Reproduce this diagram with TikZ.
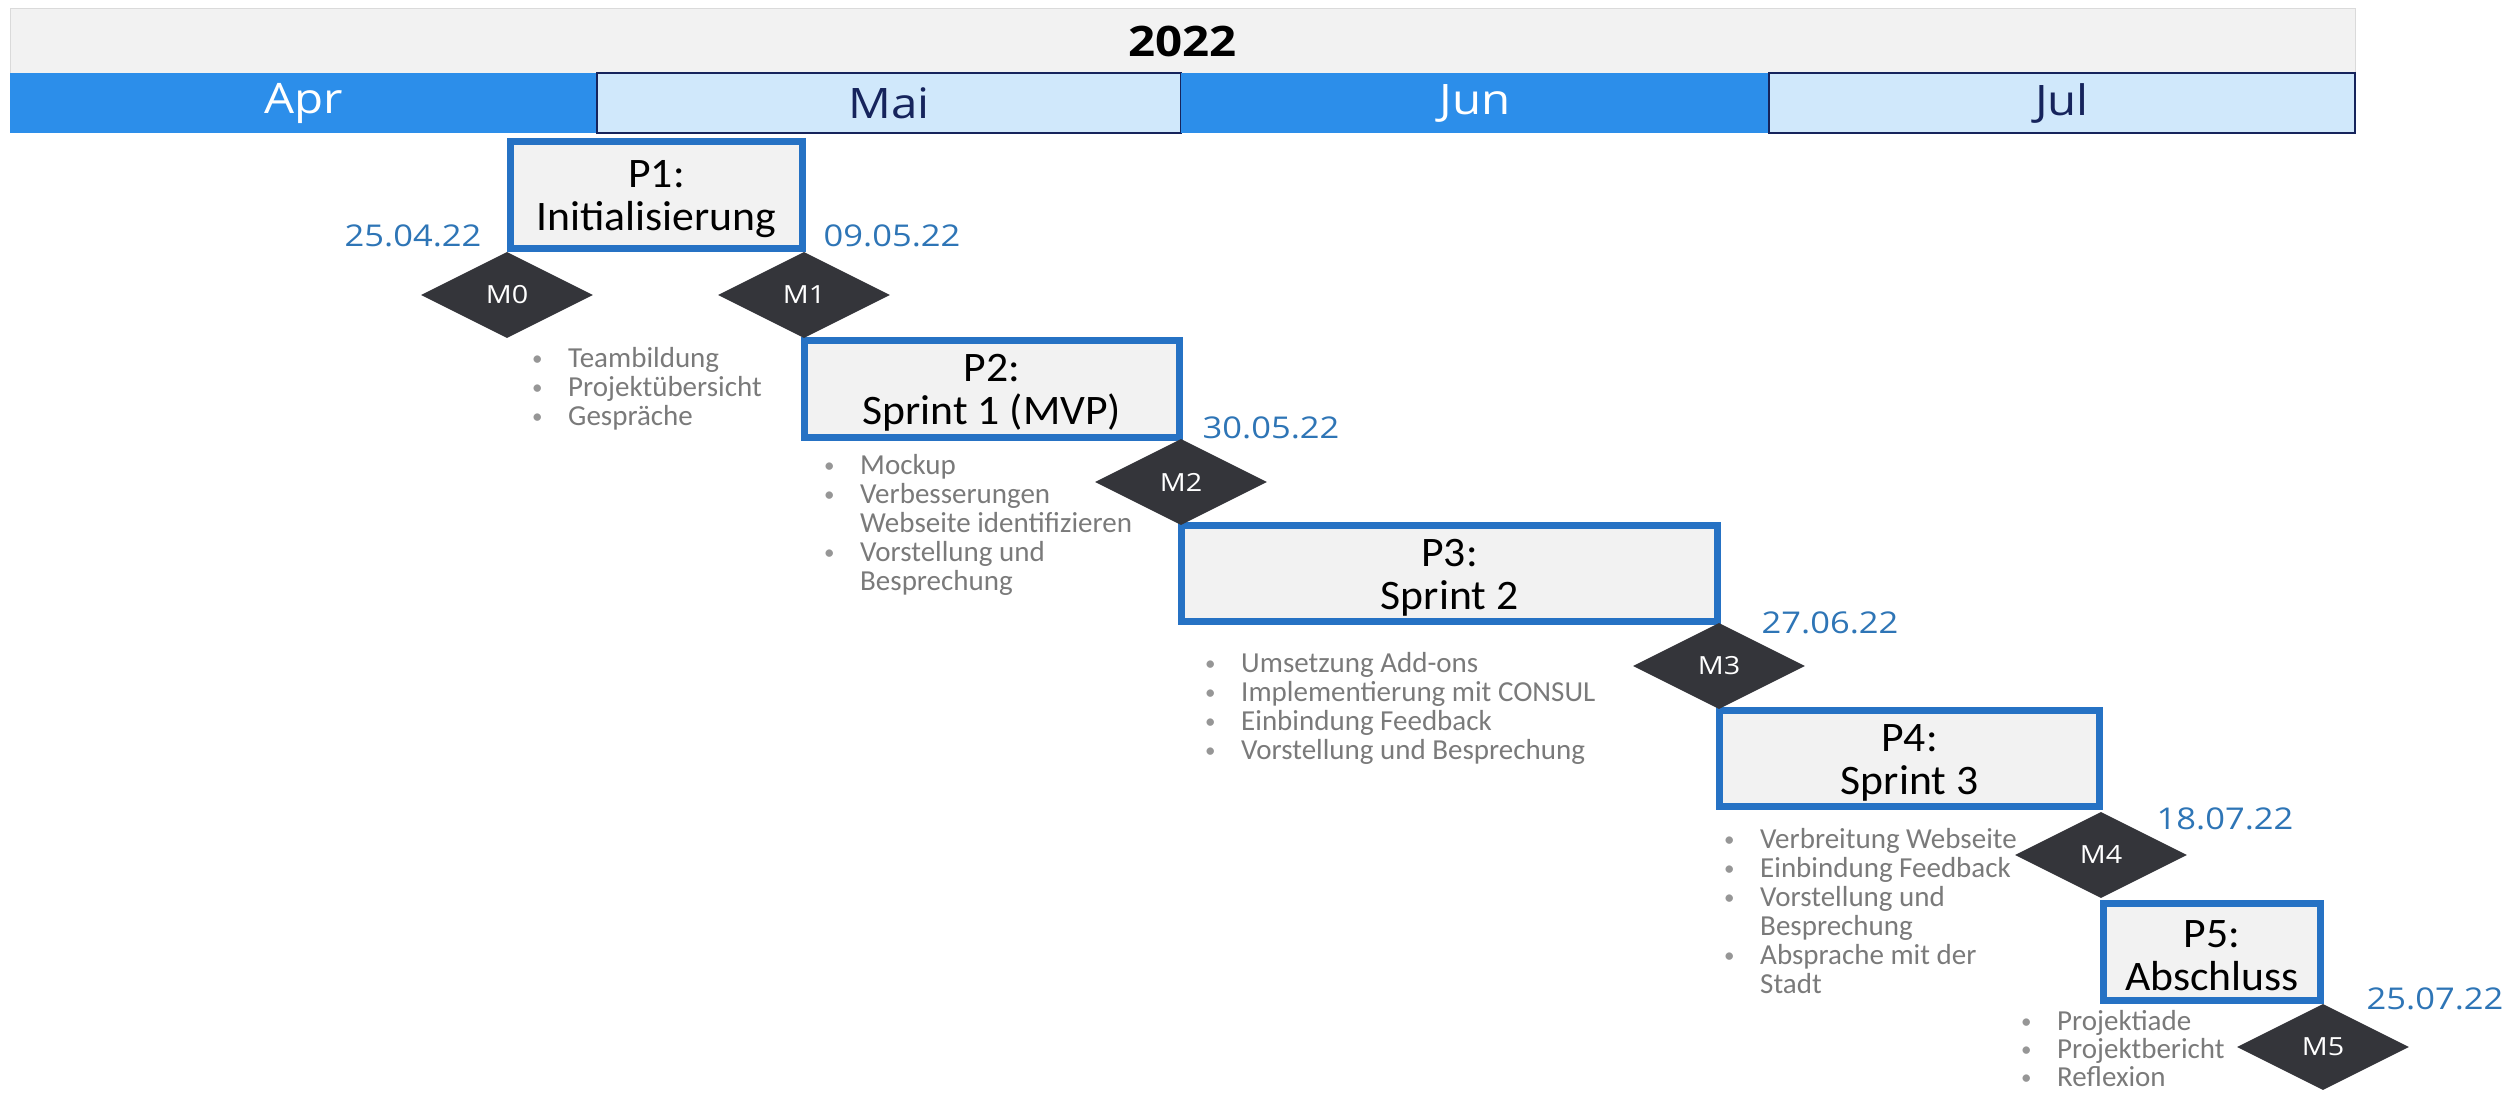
\documentclass[tikz,border=0pt]{standalone}
\usepackage{fontspec}
\setmainfont{Carlito}
\newfontfamily\boxfont[FakeStretch=1.04]{Carlito}
\newfontfamily\uifont[FakeStretch=1.13]{Open Sans}
\newfontfamily\datefont[FakeStretch=1.15]{Open Sans}
\newfontfamily\msfont[FakeStretch=1.15]{Open Sans}
\usetikzlibrary{shapes.geometric}

\definecolor{hdrgray}{RGB}{242,242,242}
\definecolor{hdrline}{RGB}{218,218,218}
\definecolor{monthblue}{RGB}{44,142,234}
\definecolor{monthlight}{RGB}{208,232,251}
\definecolor{monthnavy}{RGB}{22,36,92}
\definecolor{phaseblue}{RGB}{38,114,196}
\definecolor{phasefill}{RGB}{242,242,242}
\definecolor{msdark}{RGB}{52,53,58}
\definecolor{dateblue}{RGB}{46,117,182}
\definecolor{notegray}{RGB}{122,122,122}
\definecolor{dotgray}{RGB}{150,150,150}

% bullet item and continuation line of a note list
\newcommand\itm[1]{\makebox[37pt][l]{\hspace*{1pt}\raisebox{2pt}{\textcolor{dotgray}{\fontsize{21}{21}\selectfont\textbullet}}}#1}
\newcommand\cont[1]{\hspace*{37pt}#1}

\tikzset{
  yearbar/.style={draw=hdrline, line width=1, fill=hdrgray, inner sep=0,
    minimum height=66, font=\uifont\bfseries\fontsize{42}{42}\selectfont},
  monthdark/.style={fill=monthblue, inner sep=0, minimum height=60,
    text=white, font=\uifont\fontsize{42}{42}\selectfont},
  monthpale/.style={fill=monthlight, draw=monthnavy, line width=1.5, inner sep=0,
    minimum height=60, text=monthnavy, font=\uifont\fontsize{42}{42}\selectfont},
  phase/.style={draw=phaseblue, line width=7, fill=phasefill, inner sep=0},
  phasetext/.style={inner sep=0, align=center,
    font=\boxfont\fontsize{42}{43}\selectfont},
  milestone/.style={shape=diamond, fill=msdark, minimum width=172,
    minimum height=86, inner sep=0, text=white,
    font=\msfont\fontsize{25}{25}\selectfont},
  datelabel/.style={inner sep=0, text=dateblue,
    font=\datefont\fontsize{30}{30}\selectfont},
  note/.style={inner sep=0, anchor=base west, text=notegray,
    font=\fontsize{29}{29}\selectfont}
}

\begin{document}
\begin{tikzpicture}[x=1pt,y=-1pt]
\useasboundingbox (0,0) rectangle (2515,1092);

% year and month header
\node[yearbar, minimum width=2345] (year) at (1182.5,41) {2022};
\node[monthdark, minimum width=587] (apr) at (303.5,103) {Apr};
\node[monthpale, minimum width=584] (mai) at (889,103) {Mai};
\node[monthdark, minimum width=588] (jun) at (1475,103) {Jun};
\node[monthpale, minimum width=586] (jul) at (2062,103) {Jul};

% project phases
\node[phase, minimum width=292, minimum height=107] (p1) at (656.5,195) {};
\node[phase, minimum width=375, minimum height=97] (p2) at (992,389) {};
\node[phase, minimum width=536, minimum height=96] (p3) at (1449.5,573.5) {};
\node[phase, minimum width=380, minimum height=96] (p4) at (1909.5,758.5) {};
\node[phase, minimum width=217, minimum height=97] (p5) at (2212,952) {};
\node[phasetext] (p1t) at ([yshift=-4pt]p1.center) {P1:\\Initialisierung};
\node[phasetext] (p2t) at ([yshift=-4pt]p2.center) {P2:\\Sprint 1 (MVP)};
\node[phasetext] (p3t) at ([yshift=-4pt]p3.center) {P3:\\Sprint 2};
\node[phasetext] (p4t) at ([yshift=-4pt]p4.center) {P4:\\Sprint 3};
\node[phasetext] (p5t) at ([yshift=-4pt]p5.center) {P5:\\Abschluss};

% milestones
\node[milestone] (m0) at (507,295) {M0};
\node[milestone] (m1) at (804,295) {M1};
\node[milestone] (m2) at (1181,482) {M2};
\node[milestone] (m3) at (1719,666) {M3};
\node[milestone] (m4) at (2101,855) {M4};
\node[milestone] (m5) at (2323,1047) {M5};

% milestone dates
\node[datelabel] (d0) at (413,236) {25.04.22};
\node[datelabel] (d1) at (892,236) {09.05.22};
\node[datelabel] (d2) at (1271,428) {30.05.22};
\node[datelabel] (d3) at (1830,623) {27.06.22};
\node[datelabel] (d4) at (2225,819) {18.07.22};
\node[datelabel] (d5) at (2435,999) {25.07.22};

% phase contents
\foreach \t [count=\i] in {\itm{Teambildung},\itm{Projektübersicht},\itm{Gespräche}}
  \node[note] (n1-\i) at (531,{367+29*(\i-1)}) {\t};
\foreach \t [count=\i] in {\itm{Mockup},\itm{Verbesserungen},\cont{Webseite identifizieren},\itm{Vorstellung und},\cont{Besprechung}}
  \node[note] (n2-\i) at (823,{474+29*(\i-1)}) {\t};
\foreach \t [count=\i] in {\itm{Umsetzung Add-ons},\itm{Implementierung mit CONSUL},\itm{Einbindung Feedback},\itm{Vorstellung und Besprechung}}
  \node[note] (n3-\i) at (1204,{672+29*(\i-1)}) {\t};
\foreach \t [count=\i] in {\itm{Verbreitung Webseite},\itm{Einbindung Feedback},\itm{Vorstellung und},\cont{Besprechung},\itm{Absprache mit der},\cont{Stadt}}
  \node[note] (n4-\i) at (1723,{848+29*(\i-1)}) {\t};
\foreach \t [count=\i] in {\itm{Projektiade},\itm{Projektbericht},\itm{Reflexion}}
  \node[note] (n5-\i) at (2020,{1030+28*(\i-1)}) {\t};
\end{tikzpicture}
\end{document}
